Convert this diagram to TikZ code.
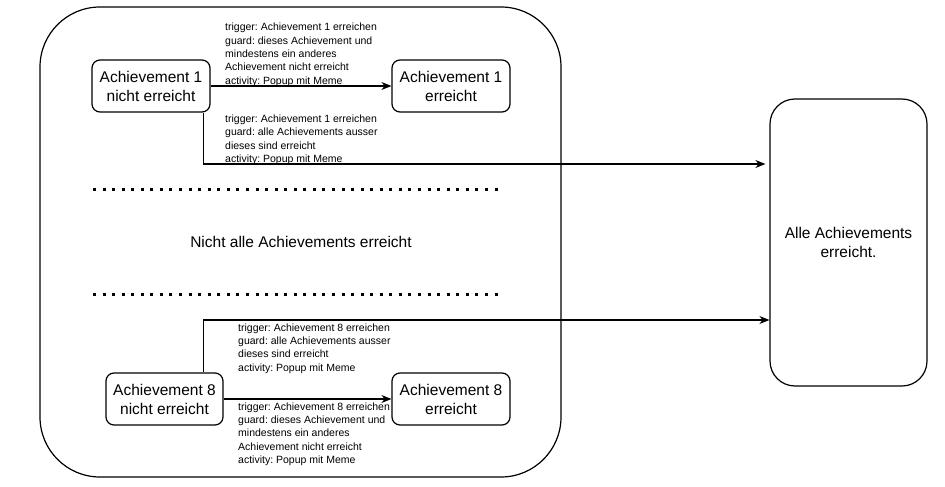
\documentclass[tikz,border=0pt]{standalone}
\usepackage{fontspec}
\setmainfont{Liberation Sans}
\usetikzlibrary{arrows.meta}
\frenchspacing
\begin{document}
\begin{tikzpicture}[x=1pt,y=-1pt,
  state/.style={draw,line width=1.2pt,rounded corners=8pt,minimum width=118pt,minimum height=52pt,inner sep=0pt,align=center,font=\fontsize{15.5}{19}\selectfont},
  lbl/.style={anchor=north west,inner sep=0pt,align=left,font=\fontsize{10.5}{13.3}\selectfont},
  conn/.style={line width=1.4pt,-{Stealth[length=10pt,width=8pt]}},
  dotrow/.style={line width=3pt,dash pattern=on 3pt off 6.56pt}]
\useasboundingbox (0,0) rectangle (945,487);
% container
\node[draw,line width=1.2pt,rounded corners=60pt,minimum width=521pt,minimum height=470pt] (cont) at (300.5,242) {};
% right box
\node[draw,line width=1.2pt,rounded corners=25pt,minimum width=157pt,minimum height=287pt,align=center,font=\fontsize{15.5}{19.4}\selectfont] (all) at (848.5,242.5) {Alle Achievements\\erreicht.};
% states
\node[state] (a1n) at (151,86) {Achievement 1\\nicht erreicht};
\node[state] (a1e) at (451,86) {Achievement 1\\erreicht};
\node[state,minimum width=117pt] (a8n) at (164.5,399) {Achievement 8\\nicht erreicht};
\node[state] (a8e) at (451,399) {Achievement 8\\erreicht};
% middle text
\node[font=\fontsize{15.5}{19}\selectfont] (mid) at (301,242) {Nicht alle Achievements erreicht};
% dotted rows
\coordinate (d1a) at (93,189);
\coordinate (d1b) at (503,189);
\coordinate (d2a) at (93,294);
\coordinate (d2b) at (503,294);
\draw[dotrow] (d1a) -- (d1b);
\draw[dotrow] (d2a) -- (d2b);
% connectors
\draw[conn] (a1n.east) -- (a1e.west);
\draw[conn] ([xshift=-7pt]a1n.south east) |- ([yshift=78.5pt,xshift=-4pt]all.west);
\draw[conn] (a8n.east) -- (a8e.west);
\draw[conn] ([xshift=-20pt]a8n.north east) |- ([yshift=-77.5pt]all.west);
% labels
\node[lbl] (l1) at (225,23) {trigger: Achievement 1 erreichen\\guard: dieses Achievement und\\mindestens ein anderes\\Achievement nicht erreicht\\activity: Popup mit Meme};
\node[lbl] (l2) at (225,114.8) {trigger: Achievement 1 erreichen\\guard: alle Achievements ausser\\dieses sind erreicht\\activity: Popup mit Meme};
\node[lbl] (l3) at (238,323.5) {trigger: Achievement 8 erreichen\\guard: alle Achievements ausser\\dieses sind erreicht\\activity: Popup mit Meme};
\node[lbl] (l4) at (238,402.5) {trigger: Achievement 8 erreichen\\guard: dieses Achievement und\\mindestens ein anderes\\Achievement nicht erreicht\\activity: Popup mit Meme};
\end{tikzpicture}
\end{document}
